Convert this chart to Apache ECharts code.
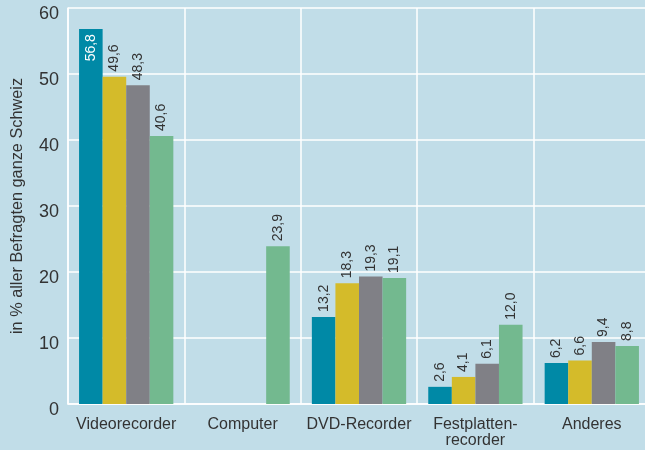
<!DOCTYPE html>
<html><head><meta charset="utf-8">
<script src="https://cdn.jsdelivr.net/npm/echarts@6/dist/echarts.min.js"></script>
<style>html,body{margin:0;padding:0;background:#c1dde8;}#c{width:645px;height:450px;}</style>
</head><body><div id="c"></div>
<script>
const categories = ['Videorecorder', 'Computer', 'DVD-Recorder', 'Festplatten-\nrecorder', 'Anderes'];
const series1 = [56.8, null, 13.2, 2.6, 6.2];
const series2 = [49.6, null, 18.3, 4.1, 6.6];
const series3 = [48.3, null, 19.3, 6.1, 9.4];
const series4 = [40.6, 23.9, 19.1, 12.0, 8.8];
const yTicks = [0, 10, 20, 30, 40, 50, 60];
const yAxisName = 'in % aller Befragten ganze Schweiz';

const colors = ['#0089a6', '#d4bb2a', '#808086', '#73b98f'];
const font = '"Liberation Sans", Arial, sans-serif';
const textColor = '#333333';
function fmt(v) { return v == null ? '' : v.toFixed(1).replace('.', ','); }

function mkSeries(name, data, idx) {
  return {
    name: name, type: 'bar', data: data.map(function (v, i) {
      if (v === null) return null;
      if (idx === 0 && i === 0) {
        return { value: v, label: { position: 'insideTop', align: 'right', color: '#ffffff', distance: 5 } };
      }
      return v;
    }),
    barGap: '0%', barCategoryGap: '19%',
    itemStyle: { color: colors[idx] },
    label: {
      show: true, position: 'top', rotate: 90, align: 'left', verticalAlign: 'middle',
      distance: 5, color: textColor, fontSize: 14, fontFamily: font,
      formatter: function (p) { return fmt(p.value); }
    }
  };
}

const chart = echarts.init(document.getElementById('c'));
chart.setOption({
  backgroundColor: '#c1dde8',
  animation: false,
  grid: { left: 68, top: 8, width: 582, height: 396, containLabel: false, outerBoundsMode: 'none' },
  xAxis: {
    type: 'category', data: categories,
    axisLine: { show: true, lineStyle: { color: '#ffffff', width: 1.5 } },
    axisTick: { show: false },
    splitLine: { show: true, lineStyle: { color: '#ffffff', width: 1.5 } },
    axisLabel: { color: textColor, fontSize: 16, fontFamily: font, margin: 13, lineHeight: 16, interval: 0 }
  },
  yAxis: {
    type: 'value', min: yTicks[0], max: yTicks[yTicks.length - 1], interval: 10,
    name: yAxisName, nameLocation: 'middle', nameGap: 42, nameRotate: 90,
    nameTextStyle: { color: textColor, fontSize: 16.3, fontFamily: font },
    axisLine: { show: true, lineStyle: { color: '#ffffff', width: 1.5 } },
    axisTick: { show: false },
    splitLine: { show: true, lineStyle: { color: '#ffffff', width: 1.5 } },
    axisLabel: { color: textColor, fontSize: 18, fontFamily: font, margin: 9, verticalAlign: 'top', lineHeight: 12 }
  },
  series: [
    mkSeries('Serie 1', series1, 0),
    mkSeries('Serie 2', series2, 1),
    mkSeries('Serie 3', series3, 2),
    mkSeries('Serie 4', series4, 3)
  ]
});
</script>
</body></html>
